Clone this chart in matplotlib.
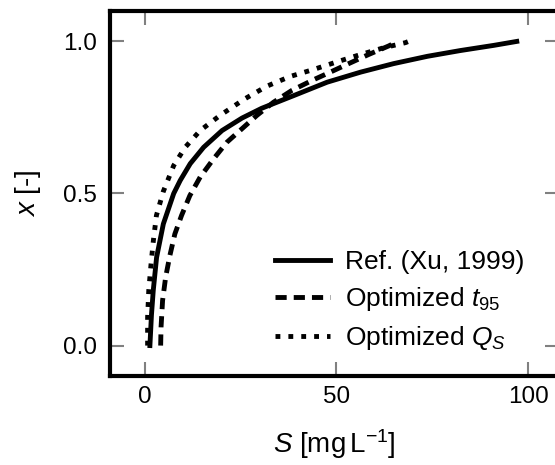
import matplotlib; matplotlib.use("Agg")
import matplotlib.pyplot as plt

plt.rcParams["font.family"] = ["Liberation Sans", "DejaVu Sans"]
plt.rcParams["mathtext.fontset"] = "custom"
plt.rcParams["mathtext.rm"] = "Liberation Sans"
plt.rcParams["mathtext.it"] = "Liberation Sans:italic"
plt.rcParams["mathtext.bf"] = "Liberation Sans:bold"

# curves: substrate S [mg/L] vs conversion x [-]
ref_S = [1.4, 1.8, 2.27, 3.14, 4.9, 7.6, 9.3, 11.9, 15.4, 20.2, 25.4, 30.5, 38.9, 47.6, 56.3, 64.9, 73.7, 82.3, 91.0, 97.0]
ref_x = [0.0, 0.1, 0.181, 0.29, 0.40, 0.50, 0.543, 0.598, 0.652, 0.707, 0.748, 0.78, 0.822, 0.866, 0.899, 0.927, 0.951, 0.970, 0.987, 1.0]

t95_S = [4.2, 4.3, 4.7, 5.5, 6.6, 7.9, 9.65, 11.8, 14.5, 18.0, 21.5, 25.4, 29.3, 33.6, 38.4, 43.7, 48.4, 53.2, 58.4, 63.6, 66.0]
t95_x = [0.0, 0.06, 0.148, 0.225, 0.296, 0.367, 0.428, 0.493, 0.554, 0.614, 0.669, 0.713, 0.757, 0.80, 0.839, 0.872, 0.899, 0.927, 0.957, 0.985, 1.0]

qs_S = [0.8, 0.8, 1.1, 1.7, 2.3, 3.1, 4.9, 7.6, 10.6, 14.5, 19.7, 26.1, 31.9, 38.0, 44.1, 50.2, 56.3, 62.3, 68.0, 68.8]
qs_x = [0.0, 0.093, 0.181, 0.269, 0.345, 0.428, 0.507, 0.592, 0.652, 0.707, 0.757, 0.811, 0.853, 0.885, 0.908, 0.933, 0.957, 0.979, 0.996, 1.0]

fig = plt.figure(figsize=(5.55, 4.65), dpi=100)
ax = fig.add_axes([110 / 555, 1 - 376 / 465, 449 / 555, 365 / 465])

lw = 3.5
ax.plot(ref_S, ref_x, color="k", lw=lw, label="Ref. (Xu, 1999)")
ax.plot(t95_S, t95_x, color="k", lw=lw, dashes=(2.3, 1.45), label="Optimized $t_{95}$")
ax.plot(qs_S, qs_x, color="k", lw=lw, dashes=(1.0, 1.65), label="Optimized $Q_S$")

ax.set_xlim(-9, 108)
ax.set_ylim(-0.1, 1.1)
ax.set_xticks([0, 50, 100])
ax.set_yticks([0.0, 0.5, 1.0])
ax.set_xlabel("$S$ [mg$\\,$L$^{-1}$]", fontsize=20, labelpad=14)
ax.set_ylabel("$x$ [-]", fontsize=20, labelpad=14)
ax.tick_params(direction="in", length=10, width=1.5, color="grey", labelsize=17.5,
               top=True, right=True)
ax.tick_params(axis="x", pad=7)
ax.tick_params(axis="y", pad=9.5)
for sp in ax.spines.values():
    sp.set_linewidth(3)

ax.legend(loc="lower left", bbox_to_anchor=(275 / 555, 1 - 352 / 465),
          bbox_transform=fig.transFigure, frameon=False, fontsize=19,
          handlelength=2.08, handletextpad=0.57, labelspacing=0.42, borderpad=0,
          borderaxespad=0)

plt.savefig("out.png", dpi=100)
